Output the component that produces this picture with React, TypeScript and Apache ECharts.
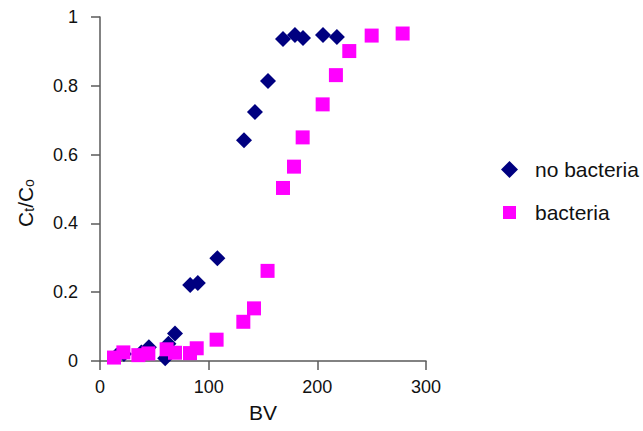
import React, { useEffect, useRef } from "react";
import * as echarts from "echarts";

const noBacteriaBV = [15, 22, 38, 45, 60, 63, 69, 83, 90, 108, 132.5, 142.6, 154.6, 168.4, 179.4, 186.8, 205.2, 218];
const noBacteriaC = [0.015, 0.02, 0.025, 0.04, 0.008, 0.05, 0.08, 0.221, 0.227, 0.299, 0.642, 0.724, 0.814, 0.936, 0.948, 0.939, 0.948, 0.942];

const bacteriaBV = [12.9, 21.5, 35.3, 44.5, 61.3, 69, 82.8, 89, 107.3, 131.9, 141.7, 154.2, 168.4, 178.5, 186.5, 204.9, 217.1, 229.4, 250, 278.5];
const bacteriaC = [0.01, 0.025, 0.017, 0.022, 0.034, 0.024, 0.023, 0.037, 0.062, 0.114, 0.153, 0.262, 0.503, 0.565, 0.65, 0.746, 0.831, 0.901, 0.946, 0.952];

const xTicks = [0, 100, 200, 300];
const yTicks = [0, 0.2, 0.4, 0.6, 0.8, 1];

const FONT = "'Liberation Sans', Arial, sans-serif";

export default function App() {
  const ref = useRef<HTMLDivElement>(null);
  useEffect(() => {
    if (!ref.current) return;
    const chart = echarts.init(ref.current, undefined, { renderer: "svg" });
    const axisColor = "#5a5a5a";
    chart.setOption({
      animation: false,
      backgroundColor: "#ffffff",
      textStyle: { fontFamily: FONT },
      grid: { left: 100, top: 17, width: 326, height: 344, containLabel: false, outerBoundsMode: "none" },
      xAxis: {
        type: "value",
        min: xTicks[0],
        max: xTicks[xTicks.length - 1],
        interval: 100,
        name: "BV",
        nameLocation: "middle",
        nameGap: 41,
        nameTextStyle: { fontSize: 21, color: "#111", fontFamily: FONT },
        axisLine: { show: true, lineStyle: { color: axisColor, width: 1.5 } },
        axisTick: { show: true, inside: false, length: 9, lineStyle: { color: axisColor, width: 1.5 } },
        axisLabel: { fontSize: 18, color: "#111", margin: 17, fontFamily: FONT },
        splitLine: { show: false },
      },
      yAxis: {
        type: "value",
        min: yTicks[0],
        max: yTicks[yTicks.length - 1],
        interval: 0.2,
        axisLine: { show: true, lineStyle: { color: axisColor, width: 1.5 } },
        axisTick: { show: true, inside: false, length: 9, lineStyle: { color: axisColor, width: 1.5 } },
        axisLabel: {
          fontSize: 18,
          color: "#111",
          margin: 22,
          fontFamily: FONT,
          formatter: (v: number) => (v === 0 ? "0" : v === 1 ? "1" : v.toFixed(1)),
        },
        splitLine: { show: false },
      },
      legend: [
        {
          orient: "vertical",
          left: 496,
          top: 154,
          itemWidth: 17,
          itemHeight: 17,
          textStyle: { fontSize: 21, color: "#111", fontFamily: FONT, padding: [0, 0, 0, 12] },
          data: [{ name: "no bacteria", icon: "diamond" }],
        },
        {
          orient: "vertical",
          left: 498,
          top: 197,
          itemWidth: 13,
          itemHeight: 13,
          textStyle: { fontSize: 21, color: "#111", fontFamily: FONT, padding: [0, 0, 0, 14] },
          data: [{ name: "bacteria", icon: "rect" }],
        },
      ],
      graphic: [
        {
          type: "text",
          x: 25,
          y: 203,
          rotation: Math.PI / 2,
          style: {
            text: "C{sub|t}/C{sub|o}",
            fontSize: 21,
            fontFamily: FONT,
            fill: "#111",
            align: "center",
            verticalAlign: "middle",
            rich: {
              sub: { fontSize: 14, fontFamily: FONT, fill: "#111", verticalAlign: "bottom", padding: [8, 0, 0, 0] },
            },
          },
        },
      ],
      series: [
        {
          name: "no bacteria",
          type: "scatter",
          symbol: "diamond",
          symbolSize: 16,
          itemStyle: { color: "#000080", opacity: 1 },
          data: noBacteriaBV.map((x, i) => [x, noBacteriaC[i]]),
        },
        {
          name: "bacteria",
          type: "scatter",
          symbol: "rect",
          symbolSize: 14,
          itemStyle: { color: "#ff00ff", opacity: 1 },
          data: bacteriaBV.map((x, i) => [x, bacteriaC[i]]),
        },
      ],
    });
    return () => chart.dispose();
  }, []);
  return (
    <div
      ref={ref}
      style={{ position: "fixed", left: 0, top: 0, width: 643, height: 431, background: "#fff" }}
    />
  );
}
